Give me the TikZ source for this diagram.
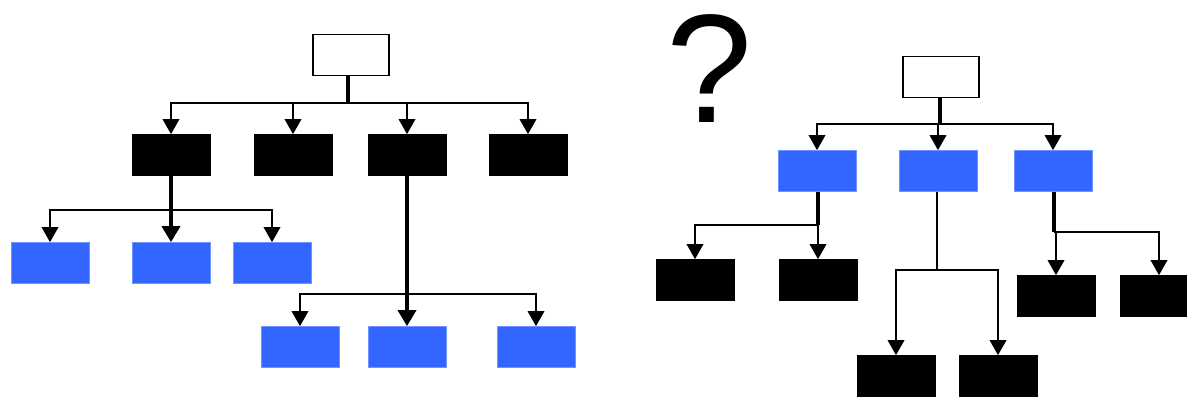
\documentclass[tikz,border=0pt]{standalone}
\usepackage{fontspec}
\setmainfont{Liberation Sans}
\usepackage{tikz}
\usetikzlibrary{arrows.meta}

\definecolor{boxblue}{HTML}{3366FF}

\begin{document}
\begin{tikzpicture}[
        x=0.02cm, y=-0.02cm,
        % Root nodes: thin border, white fill
        rootbox/.style={rectangle, draw=black, line width=1pt, fill=white,
            minimum width=1.52cm, minimum height=0.82cm, inner sep=0pt},
        % Black nodes
        blackbox/.style={rectangle, draw=black, fill=black,
            minimum width=1.56cm, minimum height=0.82cm, inner sep=0pt},
        % Blue nodes
        bluebox/.style={rectangle, draw=boxblue!70!white, fill=boxblue,
            minimum width=1.56cm, minimum height=0.82cm, inner sep=0pt},
        % Connectors
        bar/.style={line width=1.1pt},
        stem/.style={line width=2pt},
        arrow/.style={line width=1.1pt, -{Triangle[width=0.33cm, length=0.3cm]}},
        bigarrow/.style={line width=2pt, -{Triangle[width=0.36cm, length=0.32cm]}},
        ]

        \clip (0,0) rectangle (1187,396);

        % Row y-coordinates (pixels, downwards)
        \def\rowA{155}
        \def\rowB{263}
        \def\rowC{347}

        % === Left tree ===
        \node[rootbox] (rL) at (351,55) {};
        \node[blackbox] (bL1) at (171,\rowA) {};
        \node[blackbox] (bL2) at (293,\rowA) {};
        \node[blackbox] (bL3) at (407,\rowA) {};
        \node[blackbox] (bL4) at (528,\rowA) {};

        \node[bluebox] (qL1) at (50,\rowB) {};
        \node[bluebox] (qL2) at (171,\rowB) {};
        \node[bluebox] (qL3) at (272,\rowB) {};

        \node[bluebox] (qL4) at (300,\rowC) {};
        \node[bluebox] (qL5) at (407,\rowC) {};
        \node[bluebox] (qL6) at (536,\rowC) {};

        \coordinate (jL) at (348,103);
        \coordinate (jL1) at (171,210);
        \coordinate (jL3) at (407,294);

        \draw[stem] (rL.south -| jL) -- (jL);
        \draw[arrow] (jL) -| (bL1.north);
        \draw[arrow] (jL) -| (bL2.north);
        \draw[arrow] (jL) -| (bL3.north);
        \draw[arrow] (jL) -| (bL4.north);

        \draw[stem] (bL1.south) -- (jL1);
        \draw[arrow] (jL1) -| (qL1.north);
        \draw[bigarrow] (jL1) -- (qL2.north);
        \draw[arrow] (jL1) -| (qL3.north);

        \draw[stem] (bL3.south) -- (jL3);
        \draw[arrow] (jL3) -| (qL4.north);
        \draw[bigarrow] (jL3) -- (qL5.north);
        \draw[arrow] (jL3) -| (qL6.north);

        % === Question mark ===
        \node[anchor=base, inner sep=0pt, font=\fontsize{88}{88}\selectfont]
            (qmark) at (709,122) {?};

        % === Right tree ===
        \node[rootbox] (rR) at (941,77) {};
        \node[bluebox] (uR1) at (817,171) {};
        \node[bluebox] (uR2) at (938,171) {};
        \node[bluebox] (uR3) at (1053,171) {};

        \node[blackbox] (kR1) at (695,280) {};
        \node[blackbox] (kR2) at (818,280) {};
        \node[blackbox] (kR3) at (896,376) {};
        \node[blackbox] (kR4) at (998,376) {};
        \node[blackbox] (kR5) at (1056,296) {};
        \node[blackbox] (kR6) at (1159,296) {};

        \coordinate (jR) at (940,124);
        \coordinate (jR1) at (818,225);
        \coordinate (jR2) at (937,270);
        \coordinate (jR3) at (1054,232);

        \draw[stem] (rR.south -| jR) -- (jR);
        \draw[arrow] (jR) -| (uR1.north);
        \draw[arrow] (jR) -| (uR2.north);
        \draw[arrow] (jR) -| (uR3.north);

        \draw[stem] (uR1.south -| jR1) -- (jR1);
        \draw[arrow] (jR1) -| (kR1.north);
        \draw[arrow] (jR1) -- (kR2.north);

        \draw[bar] (uR2.south -| jR2) -- (jR2);
        \draw[arrow] (jR2) -| (kR3.north);
        \draw[arrow] (jR2) -| (kR4.north);

        \draw[stem] (uR3.south -| jR3) -- (jR3);
        \draw[arrow] (jR3) -| (kR5.north);
        \draw[arrow] (jR3) -| (kR6.north);

    \end{tikzpicture}
\end{document}
